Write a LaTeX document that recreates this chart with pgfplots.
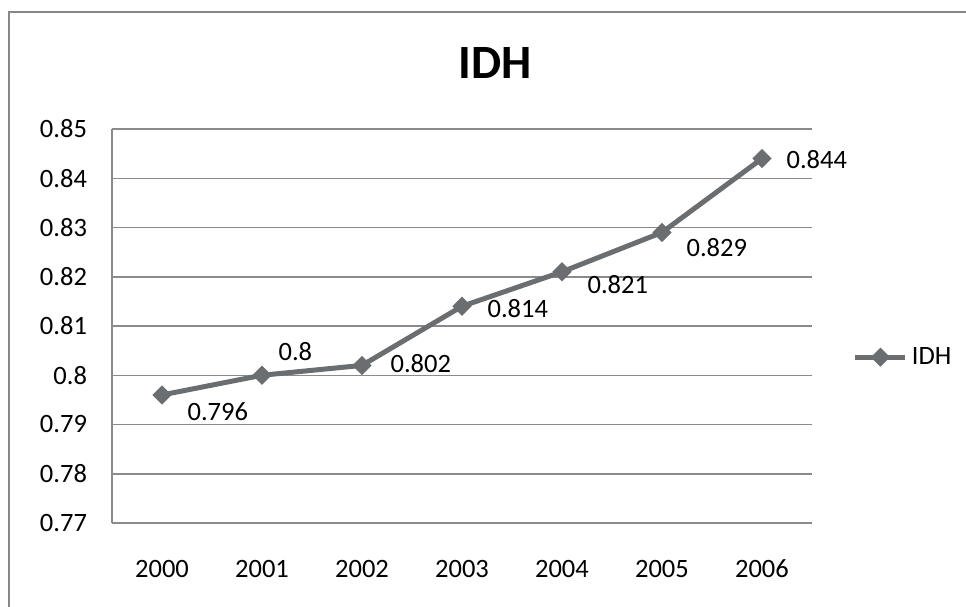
\documentclass[border=0pt]{standalone}
\usepackage{fontspec}
\setmainfont{Carlito}
\usepackage{pgfplots}
\pgfplotsset{compat=1.18}
\definecolor{serieGray}{HTML}{6B6E71}
\definecolor{gridGray}{HTML}{8A8A8A}
\definecolor{frameGray}{HTML}{878787}

\pgfplotstableread{
x y dx dy lbl
0 0.796 12.5 -8.5 0.796
1 0.800 8.0 12.0 0.8
2 0.802 14.0 1.0 0.802
3 0.814 12.5 -1.0 0.814
4 0.821 12.5 -6.5 0.821
5 0.829 12.0 -7.5 0.829
6 0.844 12.0 -0.5 0.844
}\idhdata

\begin{document}
\begin{tikzpicture}
% page = 966x607 px at 0.5bp per px, axis origin at px (112,523)
\useasboundingbox (-56bp,-42bp) rectangle (427bp,261.5bp);
\draw[frameGray,line width=1.1bp] (-51.5bp,-42bp) -- (-51.5bp,255.5bp) -- (427bp,255.5bp);
\begin{axis}[
  scale only axis,
  width=350bp,height=197bp,
  xmin=-0.5,xmax=6.5,
  ymin=0.77,ymax=0.85,
  xtick={0,1,2,3,4,5,6},
  xticklabels={2000,2001,2002,2003,2004,2005,2006},
  ytick={0.77,0.78,0.79,0.80,0.81,0.82,0.83,0.84,0.85},
  /pgf/number format/fixed,
  /pgf/number format/precision=2,
  /pgf/number format/assume math mode=true,
  yticklabel style={xshift=-9bp},
  xticklabel style={yshift=-15bp},
  tick label style={font=\fontsize{13.3}{15}\selectfont,color=black},
  major tick length=0pt,
  axis lines*=left,
  axis line style={gridGray,line width=0.75bp},
  ymajorgrids,
  grid style={gridGray,line width=0.75bp},
  clip=false,
  title={IDH},
  title style={font=\fontsize{24}{28}\selectfont\bfseries,
    at={(axis description cs:0.547,1.138)},anchor=center},
  legend style={at={(axis description cs:1.058,0.421)},anchor=west,
    draw=none,fill=none,font=\fontsize{13.3}{15}\selectfont,
    inner sep=0pt},
  legend image code/.code={
    \draw[#1,mark=none] (0bp,0bp) -- (25bp,0bp);
    \draw[#1,only marks] plot coordinates {(12.5bp,0bp)};
  },
]
\addplot[serieGray,line width=2.5bp,
  mark=square*,mark size=3.1bp,
  mark options={rotate=45,line width=0.6bp,fill=serieGray},
  point meta=explicit symbolic,
  visualization depends on={\thisrow{dx} \as \dx},
  visualization depends on={\thisrow{dy} \as \dy},
  nodes near coords,
  every node near coord/.append style={font=\fontsize{13.3}{15}\selectfont,
    color=black,anchor=west,inner sep=0pt,xshift=\dx bp,yshift=\dy bp},
] table[x=x,y=y,meta=lbl] {\idhdata};
\legend{IDH}
\end{axis}
\end{tikzpicture}
\end{document}
